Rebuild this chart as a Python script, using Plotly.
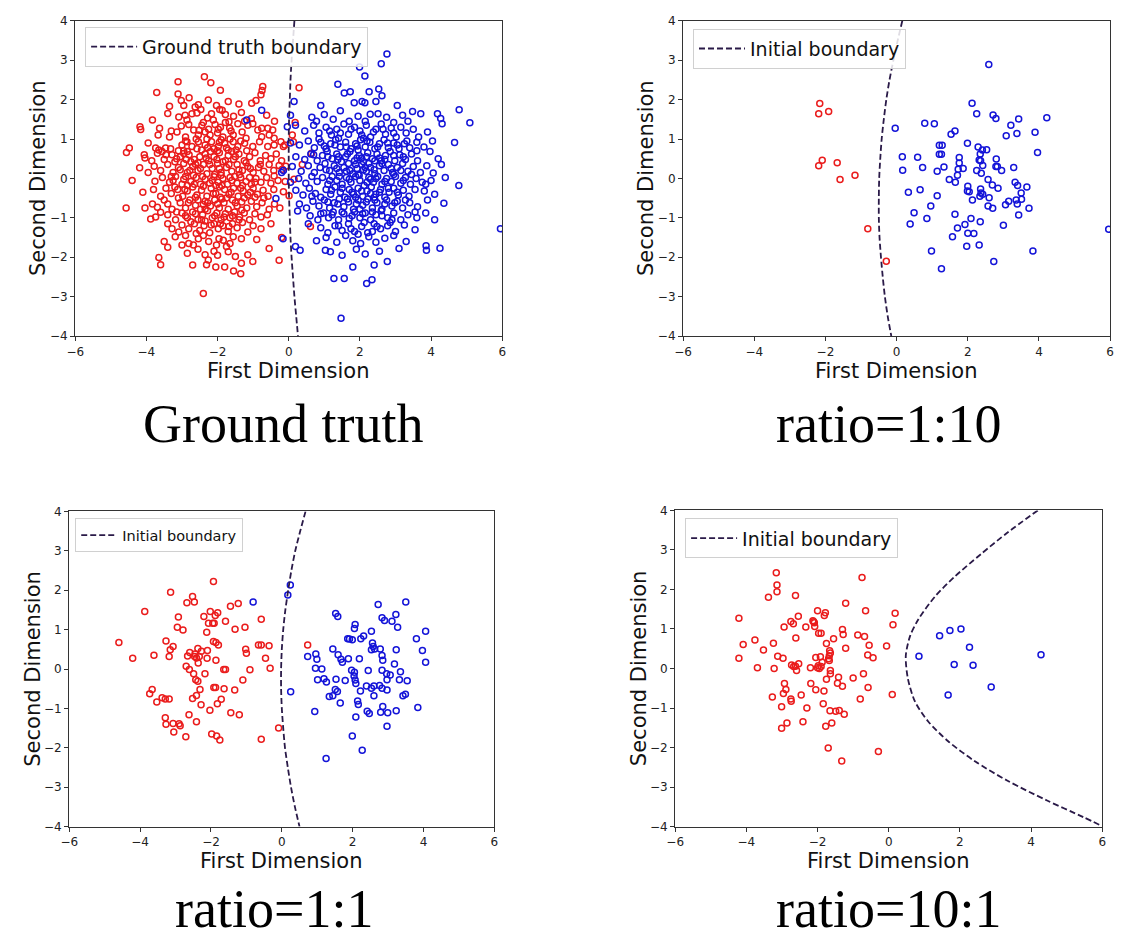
import plotly.graph_objects as go

# ---------------- data ----------------
# Ground truth: class A (red) and class B (blue) samples
GT_RED = [
    (-2.37, 2.58), (-2.19, 2.43), (-3.11, 2.45), (-3.71, 2.18), (-1.92, 2.24), (-0.73, 2.33), (-0.75, 2.23), (0.29, 2.30),
    (-3.11, 2.14), (-3.02, 1.98), (-2.95, 1.85), (-3.35, 1.83), (-2.26, 1.99), (-2.03, 1.85), (-1.40, 1.89), (-1.04, 1.91),
    (-0.92, 1.98), (-0.78, 2.12), (-2.54, 1.87), (-2.63, 1.81), (-1.70, 1.95), (-2.80, 2.05),
    (-1.94, 1.75), (-2.47, 1.75), (-2.72, 1.64), (-2.58, 1.66), (-3.09, 1.56), (-2.91, 1.60), (-2.86, 1.48), (-2.17, 1.64),
    (-2.28, 1.53), (-2.12, 1.48), (-1.87, 1.73), (-1.78, 1.62), (-3.83, 1.48), (-1.33, 1.67), (-1.24, 1.45), (-1.55, 1.58),
    (-1.05, 1.52), (-0.62, 1.60), (-0.40, 1.45), (-3.40, 1.65), (-2.40, 1.42), (-1.68, 1.44), (0.18, 1.42),
    (-4.16, 1.24), (-4.18, 1.31), (-3.63, 1.27), (-3.67, 1.10), (-3.02, 1.33), (-3.14, 1.18), (-2.81, 1.37), (-2.67, 1.23),
    (-2.44, 1.35), (-2.35, 1.18), (-2.54, 1.10), (-2.07, 1.37), (-1.98, 1.25), (-2.21, 1.10), (-1.78, 1.42), (-1.66, 1.28),
    (-1.56, 1.10), (-1.43, 1.39), (-1.31, 1.18), (-1.15, 1.35), (-1.01, 1.39), (-0.87, 1.23), (-0.76, 1.27), (-0.59, 1.27),
    (-0.45, 1.23), (-0.76, 1.06), (-0.55, 1.10), (-0.41, 1.02), (0.10, 1.10), (-3.35, 1.05), (-2.90, 1.05), (-1.85, 1.05),
    (-1.20, 1.02), (-2.00, 1.15),
    (-0.22, 0.93), (-0.11, 0.85), (-4.48, 0.77), (-3.74, 0.77), (-3.65, 0.72), (-3.46, 0.77), (-3.32, 0.75), (-3.00, 0.85),
    (-2.86, 0.93), (-2.72, 0.81), (-2.54, 0.93), (-2.35, 0.85), (-2.17, 0.93), (-1.98, 0.81), (-1.80, 0.89), (-1.56, 0.93),
    (-1.43, 0.81), (-1.24, 0.89), (-1.01, 0.81), (-0.82, 0.93), (-0.59, 0.81), (-0.41, 0.85), (-0.15, 0.81), (-2.45, 0.72),
    (-2.10, 0.75), (-1.70, 0.72), (-2.95, 0.70), (-1.90, 0.98), (0.13, 0.93), (-3.95, 0.90),
    (-4.56, 0.66), (-4.06, 0.60), (-3.69, 0.64), (-3.56, 0.68), (-3.28, 0.60), (-2.95, 0.63), (-4.04, 0.52), (-3.85, 0.45),
    (-3.50, 0.48), (-3.20, 0.42), (-3.05, 0.55), (-2.80, 0.60), (-2.65, 0.48), (-2.50, 0.55), (-2.35, 0.62), (-2.25, 0.45),
    (-2.10, 0.55), (-1.95, 0.65), (-1.85, 0.42), (-1.70, 0.58), (-1.55, 0.48), (-1.40, 0.62), (-1.25, 0.45), (-1.10, 0.55),
    (-0.95, 0.65), (-0.80, 0.45), (-0.65, 0.58), (-0.50, 0.50), (-0.35, 0.62), (-0.20, 0.45), (0.64, 0.64), (-2.75, 0.42),
    (-2.20, 0.68), (-1.60, 0.68),
    (-4.19, 0.27), (-3.78, 0.31), (-0.27, 0.33), (-0.08, 0.31), (-3.95, 0.15), (-3.60, 0.20), (-3.40, 0.35), (-3.25, 0.15),
    (-3.10, 0.28), (-2.95, 0.38), (-2.85, 0.15), (-2.70, 0.30), (-2.55, 0.20), (-2.40, 0.35), (-2.30, 0.12), (-2.15, 0.25),
    (-2.00, 0.38), (-1.90, 0.15), (-1.75, 0.28), (-1.60, 0.18), (-1.45, 0.35), (-1.30, 0.20), (-1.15, 0.30), (-1.00, 0.15),
    (-0.85, 0.28), (-0.70, 0.18), (-0.55, 0.35), (-0.42, 0.20), (0.38, 0.35), (-2.62, 0.36), (-2.08, 0.10), (-1.52, 0.05),
    (-0.18, 0.23),
    (-3.76, -0.07), (-0.41, 0.06), (-4.40, -0.05), (-3.55, 0.02), (-3.35, -0.10), (-3.18, 0.05), (-3.00, -0.15), (-2.90, 0.05),
    (-2.75, -0.08), (-2.60, 0.02), (-2.48, -0.15), (-2.35, -0.02), (-2.22, -0.12), (-2.10, 0.04), (-1.98, -0.10), (-1.85, 0.00),
    (-1.72, -0.15), (-1.60, -0.05), (-1.45, -0.12), (-1.35, 0.02), (-1.20, -0.08), (-1.05, -0.15), (-0.92, 0.00), (-0.78, -0.10),
    (-0.62, 0.02), (-0.50, -0.12), (-0.30, -0.05), (-0.10, -0.08), (0.15, -0.02), (-2.85, -0.18), (-2.05, -0.18), (-1.30, -0.18),
    (-0.15, -0.34), (-4.10, -0.35), (-3.80, -0.28), (-3.60, -0.45), (-3.45, -0.25), (-3.30, -0.38), (-3.12, -0.28), (-2.98, -0.45),
    (-2.85, -0.32), (-2.70, -0.22), (-2.58, -0.42), (-2.45, -0.30), (-2.30, -0.45), (-2.18, -0.25), (-2.05, -0.38), (-1.92, -0.48),
    (-1.80, -0.28), (-1.68, -0.40), (-1.55, -0.25), (-1.42, -0.45), (-1.28, -0.32), (-1.15, -0.42), (-1.00, -0.25), (-0.88, -0.40),
    (-0.72, -0.30), (-0.58, -0.45), (-0.42, -0.28), (-2.62, -0.48), (-1.95, -0.22), (-0.95, -0.48), (0.01, -0.44),
    (-4.57, -0.75), (-4.04, -0.75), (-3.83, -0.65), (-3.69, -0.73), (-3.28, -0.78), (-3.50, -0.55), (-3.05, -0.62), (-2.90, -0.75),
    (-2.78, -0.55), (-2.62, -0.68), (-2.48, -0.78), (-2.35, -0.58), (-2.20, -0.70), (-2.08, -0.55), (-1.95, -0.75), (-1.82, -0.62),
    (-1.70, -0.78), (-1.58, -0.55), (-1.45, -0.70), (-1.32, -0.60), (-1.18, -0.75), (-1.05, -0.58), (-0.90, -0.72), (-0.75, -0.62),
    (-0.55, -0.78), (-0.40, -0.65), (-0.25, -0.75), (-2.40, -0.66), (-1.88, -0.52),
    (-3.88, -1.03), (-3.74, -0.98), (-3.60, -0.86), (-0.78, -0.98), (-3.40, -0.92), (-3.18, -1.05), (-3.00, -0.88), (-2.85, -1.00),
    (-2.70, -0.85), (-2.55, -1.05), (-2.42, -0.92), (-2.28, -0.82), (-2.15, -1.00), (-2.02, -0.88), (-1.90, -1.05), (-1.78, -0.90),
    (-1.65, -1.00), (-1.52, -0.85), (-1.38, -0.98), (-1.25, -0.88), (-1.10, -1.05), (-0.95, -0.90), (-0.60, -0.92), (-2.35, -1.08),
    (-0.78, -1.28), (-3.28, -1.28), (-2.81, -1.28), (-3.09, -1.36), (-3.40, -1.15), (-3.00, -1.18), (-2.65, -1.15), (-2.50, -1.32),
    (-2.38, -1.20), (-2.22, -1.38), (-2.10, -1.15), (-1.98, -1.28), (-1.85, -1.20), (-1.70, -1.35), (-1.58, -1.15), (-1.45, -1.25),
    (-1.30, -1.12), (-1.15, -1.36), (-1.00, -1.20), (-0.50, -1.15), (0.61, -1.22), (-2.60, -1.40),
    (-3.19, -1.48), (-2.54, -1.53), (-1.96, -1.53), (-1.84, -1.57), (-1.56, -1.48), (-1.33, -1.53), (-3.00, -1.69), (-2.81, -1.65),
    (-2.68, -1.69), (-2.03, -1.69), (-2.90, -1.45), (-2.25, -1.60), (-1.65, -1.65), (-0.90, -1.55), (-0.20, -1.50), (-3.50, -1.60),
    (-2.40, -1.45),
    (-1.75, -1.73), (-1.70, -1.86), (-0.55, -1.78), (-2.35, -1.94), (-1.15, -1.94), (-3.40, -1.75), (-2.85, -1.90), (-2.55, -1.80),
    (-2.10, -1.85), (-1.50, -1.98), (-3.65, -2.01), (-2.00, -1.95),
    (-3.60, -2.19), (-2.26, -2.07), (-2.31, -2.19), (-1.01, -2.11), (-1.33, -2.15), (-0.27, -2.08), (-2.70, -2.20), (-1.80, -2.25),
    (-2.40, -2.92), (-1.55, -2.35), (-1.35, -2.42), (-2.05, -2.25),
    # dense core
    (-2.90, 0.95), (-2.60, 1.00), (-2.30, 1.00), (-1.95, 0.92), (-1.65, 1.00), (-1.35, 0.95), (-3.10, 0.70), (-2.85, 0.68),
    (-2.58, 0.75), (-2.28, 0.78), (-2.00, 0.70), (-1.75, 0.78), (-1.48, 0.72), (-1.18, 0.70), (-3.15, 0.50), (-2.88, 0.48),
    (-2.55, 0.40), (-2.32, 0.52), (-2.02, 0.48), (-1.78, 0.45), (-1.50, 0.55), (-1.20, 0.40), (-3.05, 0.22), (-2.78, 0.20),
    (-2.48, 0.25), (-2.22, 0.35), (-1.95, 0.25), (-1.68, 0.35), (-1.40, 0.22), (-1.08, 0.25), (-3.25, -0.05), (-2.95, -0.02),
    (-2.68, 0.08), (-2.42, 0.05), (-2.15, -0.05), (-1.90, 0.08), (-1.65, 0.02), (-1.38, 0.10), (-1.10, 0.02), (-3.20, -0.22),
    (-2.92, -0.28), (-2.65, -0.15), (-2.40, -0.20), (-2.12, -0.38), (-1.88, -0.18), (-1.62, -0.35), (-1.35, -0.25), (-1.08, -0.35),
    (-3.10, -0.50), (-2.82, -0.62), (-2.55, -0.55), (-2.28, -0.62), (-2.00, -0.65), (-1.75, -0.50), (-1.50, -0.62), (-1.25, -0.50),
    (-3.15, -0.85), (-2.90, -0.95), (-2.62, -0.90), (-2.35, -0.78), (-2.08, -0.95), (-1.82, -0.98), (-1.58, -0.95), (-1.32, -0.80),
    (-2.75, -1.10), (-2.45, -1.05), (-2.18, -1.18), (-1.92, -1.15), (-1.68, -1.22), (-1.40, -1.05), (-2.52, 1.22), (-2.25, 1.25),
    (-1.92, 1.30), (-1.62, 1.20), (-3.30, 1.20), (-3.45, 0.60), (-3.40, -0.65), (-3.30, 0.05), (-0.95, -0.10), (-0.80, 0.35),
    (-0.70, -0.50),
]

GT_BLUE = [
    (2.76, 3.16), (1.99, 2.83), (2.60, 2.91), (2.14, 2.60), (1.38, 2.39), (2.53, 2.27), (2.26, 2.20),
    (1.56, 2.17), (1.73, 2.20), (2.62, 2.10), (1.84, 1.92), (2.06, 1.95), (2.14, 1.92), (0.15, 1.95), (0.90, 1.85),
    (3.05, 1.85), (2.45, 1.95),
    (2.29, 1.63), (2.51, 1.64), (4.79, 1.74), (5.09, 1.41), (4.18, 1.64), (4.27, 1.52), (4.31, 1.39), (3.71, 1.64),
    (3.48, 1.70), (0.65, 1.55), (0.78, 1.45), (1.00, 1.62), (1.25, 1.50), (1.45, 1.72), (1.70, 1.45), (1.95, 1.58),
    (2.15, 1.45), (2.75, 1.55), (2.95, 1.42), (3.20, 1.60), (3.35, 1.45), (0.05, 1.60), (-0.76, 1.73),
    (3.90, 1.18), (0.45, 1.20), (0.70, 1.35), (0.85, 1.15), (1.05, 1.30), (1.20, 1.10), (1.35, 1.25), (1.55, 1.38),
    (1.68, 1.12), (1.85, 1.30), (2.00, 1.20), (2.18, 1.35), (2.30, 1.05), (2.45, 1.25), (2.60, 1.38), (2.72, 1.12),
    (2.88, 1.28), (3.02, 1.05), (3.15, 1.30), (3.30, 1.15), (3.50, 1.25), (3.65, 1.05), (-0.04, 1.31), (0.19, 1.35),
    (-1.18, 1.48), (1.40, 1.02), (2.10, 1.02),
    (4.04, 0.95), (4.66, 0.91), (0.30, 0.85), (0.55, 0.95), (0.72, 0.78), (0.90, 0.92), (1.05, 0.75), (1.18, 0.88),
    (1.32, 0.98), (1.45, 0.80), (1.60, 0.92), (1.75, 0.75), (1.88, 0.88), (2.02, 0.98), (2.15, 0.80), (2.28, 0.92),
    (2.42, 0.75), (2.55, 0.88), (2.68, 0.98), (2.80, 0.78), (2.95, 0.90), (3.10, 0.75), (3.25, 0.88), (3.40, 0.78),
    (3.60, 0.92), (3.80, 0.80), (0.05, 0.90), (1.95, 0.72),
    (3.97, 0.68), (0.20, 0.55), (0.45, 0.48), (0.62, 0.62), (0.80, 0.45), (0.95, 0.58), (1.08, 0.68), (1.22, 0.50),
    (1.35, 0.62), (1.48, 0.42), (1.60, 0.55), (1.72, 0.68), (1.85, 0.45), (1.98, 0.58), (2.10, 0.42), (2.22, 0.65),
    (2.35, 0.50), (2.48, 0.62), (2.60, 0.45), (2.72, 0.58), (2.85, 0.68), (2.98, 0.45), (3.12, 0.60), (3.28, 0.48),
    (3.45, 0.62), (3.62, 0.45), (4.20, 0.50), (1.40, 0.55), (2.05, 0.52), (2.55, 0.52),
    (4.29, 0.35), (4.06, 0.14), (-0.15, 0.20), (-0.20, 0.15), (0.10, 0.30), (0.35, 0.18), (0.55, 0.32), (0.72, 0.15),
    (0.88, 0.28), (1.02, 0.38), (1.15, 0.20), (1.28, 0.32), (1.42, 0.15), (1.55, 0.28), (1.68, 0.38), (1.80, 0.12),
    (1.92, 0.25), (2.05, 0.35), (2.18, 0.18), (2.30, 0.28), (2.42, 0.12), (2.55, 0.32), (2.68, 0.20), (2.80, 0.35),
    (2.92, 0.15), (3.05, 0.28), (3.20, 0.38), (3.35, 0.18), (3.50, 0.30), (3.70, 0.15), (3.88, 0.32), (1.72, 0.20),
    (2.25, 0.38), (2.10, 0.22),
    (4.78, -0.18), (0.05, -0.10), (0.28, 0.00), (0.48, -0.12), (0.65, 0.05), (0.80, -0.08), (0.95, 0.02), (1.10, -0.15),
    (1.22, 0.05), (1.35, -0.05), (1.50, -0.15), (1.62, 0.02), (1.75, -0.10), (1.88, 0.05), (2.00, -0.05), (2.12, -0.18),
    (2.25, 0.02), (2.38, -0.10), (2.50, 0.05), (2.62, -0.15), (2.75, 0.00), (2.88, -0.08), (3.00, 0.05), (3.15, -0.12),
    (3.28, 0.02), (3.42, -0.15), (3.58, 0.00), (3.75, -0.10), (4.00, -0.05), (4.40, 0.02), (1.98, 0.08), (2.30, -0.02),
    (3.85, -0.15), (3.81, -0.32), (-0.36, -0.51), (0.20, -0.30), (0.40, -0.42), (0.58, -0.25), (0.75, -0.38), (0.90, -0.48),
    (1.05, -0.28), (1.18, -0.40), (1.30, -0.22), (1.45, -0.35), (1.58, -0.48), (1.70, -0.28), (1.82, -0.40), (1.95, -0.25),
    (2.08, -0.45), (2.20, -0.32), (2.32, -0.22), (2.45, -0.40), (2.58, -0.28), (2.70, -0.48), (2.82, -0.35), (2.95, -0.25),
    (3.08, -0.42), (3.22, -0.30), (3.38, -0.45), (3.55, -0.28), (4.10, -0.40), (1.88, -0.48), (2.40, -0.48),
    (4.36, -0.63), (0.30, -0.65), (0.50, -0.75), (0.68, -0.58), (0.85, -0.70), (1.00, -0.55), (1.15, -0.75), (1.28, -0.62),
    (1.42, -0.52), (1.55, -0.72), (1.68, -0.60), (1.82, -0.78), (1.95, -0.55), (2.08, -0.68), (2.22, -0.52), (2.35, -0.75),
    (2.48, -0.62), (2.62, -0.78), (2.75, -0.55), (2.90, -0.70), (3.05, -0.58), (3.20, -0.75), (3.40, -0.62), (3.62, -0.72),
    (3.90, -0.55), (2.00, -0.78),
    (0.25, -0.83), (0.60, -0.95), (0.82, -1.05), (0.98, -0.88), (1.12, -1.00), (1.25, -0.85), (1.40, -1.05), (1.55, -0.90),
    (1.70, -1.02), (1.85, -0.85), (2.00, -1.00), (2.15, -0.88), (2.30, -1.05), (2.45, -0.92), (2.60, -0.82), (2.78, -1.00),
    (2.95, -0.88), (3.15, -1.05), (3.35, -0.92), (3.60, -1.00), (3.85, -0.88), (4.10, -1.05),
    (0.55, -1.15), (5.95, -1.28), (0.90, -1.25), (1.10, -1.38), (1.30, -1.20), (1.50, -1.32), (1.68, -1.15), (1.85, -1.35),
    (2.05, -1.22), (2.22, -1.38), (2.40, -1.15), (2.58, -1.28), (2.78, -1.20), (3.00, -1.35), (3.25, -1.18), (3.55, -1.30),
    (-0.16, -1.53),
    (0.78, -1.58), (1.05, -1.50), (1.35, -1.62), (1.60, -1.45), (1.80, -1.58), (2.02, -1.65), (2.25, -1.48), (2.45, -1.62),
    (2.70, -1.52), (2.95, -1.45), (3.30, -1.60), (3.86, -1.71),
    (0.19, -1.73), (0.32, -1.82), (1.03, -1.82), (1.17, -1.86), (3.87, -1.82), (4.25, -1.77), (1.50, -1.95), (1.90, -1.80),
    (2.15, -1.92), (2.55, -1.85), (3.10, -1.78),
    (2.77, -2.11), (1.27, -2.54), (1.56, -2.54), (2.19, -2.67), (2.34, -2.57), (1.47, -3.55), (1.80, -2.25), (2.40, -2.20),
    # dense core
    (1.15, 1.20), (1.45, 1.15), (1.75, 1.25), (2.05, 1.10), (2.38, 1.18), (2.65, 1.25), (2.95, 1.15), (1.00, 0.82),
    (1.30, 0.85), (1.62, 0.80), (1.92, 0.82), (2.20, 0.95), (2.50, 0.80), (2.78, 0.90), (3.05, 0.85), (3.32, 0.95),
    (1.10, 0.55), (1.38, 0.48), (1.65, 0.62), (1.92, 0.52), (2.18, 0.55), (2.42, 0.45), (2.70, 0.48), (2.95, 0.58),
    (3.22, 0.55), (1.05, 0.22), (1.35, 0.25), (1.62, 0.18), (1.88, 0.35), (2.15, 0.28), (2.40, 0.22), (2.62, 0.38),
    (2.88, 0.25), (3.15, 0.20), (1.15, -0.05), (1.42, 0.05), (1.70, -0.02), (1.95, 0.10), (2.20, -0.10), (2.45, 0.00),
    (2.70, -0.08), (2.95, 0.10), (3.22, -0.05), (1.20, -0.30), (1.50, -0.25), (1.78, -0.35), (2.05, -0.32), (2.30, -0.38),
    (2.55, -0.35), (2.80, -0.25), (3.05, -0.35), (1.10, -0.60), (1.38, -0.65), (1.65, -0.52), (1.90, -0.65), (2.18, -0.60),
    (2.42, -0.55), (2.70, -0.65), (2.98, -0.62), (3.28, -0.55), (1.22, -0.92), (1.50, -0.85), (1.78, -0.95), (2.08, -0.90),
    (2.35, -0.85), (2.62, -0.95), (2.90, -1.05), (1.40, -1.20), (1.75, -1.28), (2.12, -1.12), (2.48, -1.22), (2.85, -1.12),
    (1.95, -1.42), (2.35, -1.35), (3.45, 0.10), (3.60, 0.70), (3.55, -0.85), (0.70, 0.60), (0.65, -0.45), (0.85, 1.00),
    (0.90, -0.90),
]

# ratio = 1:10
R110_RED = [
    (-2.16, 1.90), (-2.19, 1.64), (-1.91, 1.70), (-2.09, 0.46), (-2.19, 0.32),
    (-1.67, 0.40), (-1.59, -0.03), (-1.17, 0.08), (-0.81, -1.28), (-0.29, -2.10),
]
R110_BLUE = [
    (-0.04, 1.27), (2.59, 2.89), (2.12, 1.91), (2.25, 1.64), (2.71, 1.61), (2.79, 1.52), (3.43, 1.51), (4.22, 1.54),
    (3.21, 1.35), (0.79, 1.40), (1.06, 1.39), (1.53, 1.12), (1.64, 1.20), (3.08, 1.08), (3.38, 1.14), (3.89, 1.17),
    (1.99, 0.89), (1.20, 0.84), (1.28, 0.84), (2.29, 0.80), (2.41, 0.72), (2.53, 0.73), (3.96, 0.66), (1.20, 0.61),
    (1.26, 0.61), (0.16, 0.55), (0.59, 0.54), (1.76, 0.53), (2.35, 0.62), (2.32, 0.47), (2.36, 0.45), (2.80, 0.49),
    (1.76, 0.39), (0.73, 0.28), (1.33, 0.29), (1.73, 0.23), (1.87, 0.25), (2.25, 0.20), (2.38, 0.13), (2.42, 0.33),
    (2.79, 0.30), (2.83, 0.30), (2.95, 0.20), (3.29, 0.28), (0.17, 0.21), (1.14, 0.18), (1.71, 0.08), (2.57, -0.03),
    (1.48, -0.03), (1.65, -0.10), (2.69, -0.17), (2.85, -0.25), (3.33, -0.10), (3.40, -0.18), (3.66, -0.22), (2.00, -0.20),
    (1.99, -0.32), (2.04, -0.34), (2.36, -0.27), (2.37, -0.37), (2.42, -0.40), (2.34, -0.45), (3.50, -0.37), (3.51, -0.53),
    (3.15, -0.58), (3.06, -0.67), (3.36, -0.55), (3.39, -0.65), (2.60, -0.49), (2.13, -0.55), (0.33, -0.35), (0.66, -0.29),
    (1.14, -0.44), (0.96, -0.70), (2.57, -0.70), (2.70, -0.76), (3.72, -0.76), (3.43, -0.93), (0.49, -0.87), (0.85, -1.02),
    (1.64, -0.91), (0.38, -1.16), (2.09, -1.02), (2.35, -1.10), (1.92, -1.17), (1.71, -1.26), (3.00, -1.19), (2.00, -1.39),
    (2.17, -1.40), (1.57, -1.48), (1.97, -1.72), (2.32, -1.69), (0.98, -1.84), (3.83, -1.84), (1.26, -2.29), (2.73, -2.11),
    (5.96, -1.29),
]

# ratio = 1:1
R11_RED = [
    (-1.93, 2.22), (-3.14, 1.95), (-2.52, 1.84), (-2.68, 1.68), (-2.47, 1.70), (-1.23, 1.66), (-1.45, 1.59), (-3.87, 1.46),
    (-2.02, 1.46), (-1.81, 1.43), (-1.88, 1.36), (-2.20, 1.33), (-2.92, 1.32), (-0.58, 1.26), (-1.59, 1.21), (-2.07, 1.16),
    (-1.95, 1.16), (-1.91, 1.16), (-2.95, 1.06), (-2.79, 0.99), (-1.32, 1.01), (-1.04, 1.06), (-2.12, 0.93), (-3.27, 0.71),
    (-3.07, 0.57), (-3.15, 0.49), (-3.18, 0.32), (-4.60, 0.67), (-1.93, 0.70), (-1.86, 0.67), (-1.79, 0.61), (-0.66, 0.61),
    (-0.58, 0.61), (-0.36, 0.59), (-2.37, 0.52), (-2.60, 0.42), (-2.45, 0.38), (-2.27, 0.45), (-2.10, 0.47), (-1.02, 0.50),
    (-1.00, 0.40), (-3.61, 0.35), (-4.21, 0.27), (-2.66, 0.33), (-2.46, 0.32), (-2.33, 0.32), (-2.11, 0.27), (-2.41, 0.28),
    (-1.86, 0.22), (-0.46, 0.27), (-2.36, 0.15), (-2.70, 0.07), (-2.61, -0.01), (-1.64, -0.01), (-1.59, -0.01), (-0.90, -0.02),
    (-0.33, 0.02), (-2.49, -0.12), (-2.17, -0.12), (-2.43, -0.27), (-2.37, -0.31), (-1.10, -0.28), (-3.66, -0.52), (-3.73, -0.63),
    (-2.31, -0.52), (-1.92, -0.47), (-1.87, -0.47), (-1.63, -0.50), (-1.33, -0.53), (-2.52, -0.75), (-3.38, -0.73), (-3.29, -0.76),
    (-3.18, -0.76), (-3.53, -0.84), (-2.41, -0.67), (-1.71, -0.77), (-1.82, -0.88), (-2.28, -0.91), (-2.03, -1.05), (-2.62, -1.16),
    (-1.44, -1.11), (-1.20, -1.16), (-3.29, -1.24), (-3.27, -1.40), (-3.07, -1.38), (-2.90, -1.39), (-2.87, -1.44), (-2.41, -1.34),
    (-3.05, -1.60), (-2.71, -1.72), (-1.98, -1.65), (-1.84, -1.70), (-1.75, -1.80), (-0.58, -1.78), (-0.09, -1.50), (0.73, 0.61),
]
R11_BLUE = [
    (-0.81, 1.70), (0.24, 2.13), (0.17, 1.88), (0.25, -0.58), (3.50, 1.70), (2.72, 1.64), (1.52, 1.41), (1.58, 1.33),
    (2.83, 1.30), (2.90, 1.23), (3.22, 1.38), (3.11, 1.21), (3.27, 1.06), (2.07, 1.13), (2.05, 1.03), (2.53, 0.96),
    (4.06, 0.96), (2.31, 0.84), (2.23, 0.77), (1.86, 0.77), (1.91, 0.76), (1.99, 0.74), (3.80, 0.77), (2.56, 0.66),
    (2.58, 0.57), (2.62, 0.51), (2.53, 0.49), (2.78, 0.51), (3.23, 0.49), (1.44, 0.51), (3.97, 0.47), (0.96, 0.38),
    (0.99, 0.25), (0.73, 0.32), (1.59, 0.36), (1.67, 0.25), (1.71, 0.17), (2.19, 0.26), (1.88, 0.26), (2.83, 0.34),
    (2.85, 0.22), (3.18, 0.13), (4.06, 0.17), (0.95, 0.02), (1.13, 0.00), (1.97, -0.03), (2.05, -0.08), (2.04, -0.18),
    (2.07, -0.28), (2.09, -0.37), (2.44, -0.04), (2.83, -0.03), (2.96, -0.12), (2.97, -0.27), (3.06, -0.15), (3.35, -0.07),
    (3.32, -0.27), (3.54, -0.30), (1.01, -0.27), (1.19, -0.25), (1.26, -0.33), (1.53, -0.26), (1.79, -0.29), (2.39, -0.43),
    (2.53, -0.49), (2.60, -0.43), (2.76, -0.42), (2.83, -0.49), (2.97, -0.53), (2.22, -0.56), (1.51, -0.52), (1.57, -0.57),
    (2.60, -0.68), (3.42, -0.68), (3.49, -0.64), (1.34, -0.70), (1.44, -0.68), (1.65, -0.86), (2.14, -0.81), (2.16, -0.90),
    (2.85, -0.95), (3.84, -0.98), (0.93, -1.08), (2.41, -1.07), (2.47, -1.13), (2.79, -1.10), (2.99, -1.11), (3.23, -1.06),
    (2.09, -1.22), (2.97, -1.45), (1.99, -1.70), (2.27, -2.06), (1.25, -2.27),
]

# ratio = 10:1
R101_RED = [
    (-3.16, 2.42), (-3.14, 2.11), (-3.14, 1.94), (-3.38, 1.80), (-2.62, 1.85), (-0.75, 2.30), (-4.21, 1.27), (-1.21, 1.65),
    (-2.00, 1.46), (-1.78, 1.41), (-1.81, 1.34), (-0.65, 1.46), (0.18, 1.40), (-2.54, 1.32), (-2.13, 1.21), (-2.11, 1.18),
    (-2.09, 1.16), (-2.75, 1.19), (-2.68, 1.13), (-2.94, 1.05), (-2.33, 1.05), (-2.08, 1.06), (0.12, 1.11), (-1.30, 0.99),
    (-1.97, 0.89), (-1.90, 0.89), (-1.28, 0.86), (-0.87, 0.85), (-0.68, 0.81), (-2.61, 0.77), (-1.55, 0.75), (-3.76, 0.72),
    (-4.09, 0.61), (-3.24, 0.64), (-1.75, 0.63), (-0.55, 0.59), (-0.06, 0.57), (-3.52, 0.47), (-1.21, 0.51), (-1.66, 0.45),
    (-1.64, 0.39), (-1.67, 0.32), (-1.69, 0.25), (-1.67, 0.20), (-3.12, 0.31), (-2.97, 0.26), (-2.05, 0.28), (-1.92, 0.30),
    (-0.59, 0.34), (-0.44, 0.27), (-4.21, 0.26), (-3.69, 0.02), (-3.22, 0.00), (-2.73, 0.09), (-2.67, 0.05), (-2.59, -0.05),
    (-2.53, 0.12), (-2.62, 0.06), (-2.20, 0.02), (-2.00, 0.02), (-1.95, 0.00), (-1.90, 0.05), (-1.87, 0.16), (-1.98, 0.07),
    (-1.64, -0.05), (-1.64, -0.13), (-0.71, -0.13), (-1.41, -0.22), (-1.00, -0.24), (-1.75, -0.27), (-2.19, -0.38), (-1.44, -0.37),
    (-1.30, -0.45), (-2.93, -0.38), (-2.89, -0.53), (-0.58, -0.48), (-2.05, -0.54), (-1.82, -0.57), (-2.96, -0.63), (-3.27, -0.72),
    (-2.46, -0.67), (0.10, -0.66), (-2.75, -0.77), (-2.74, -0.83), (-0.80, -0.77), (-1.84, -0.89), (-3.01, -0.97), (-2.30, -1.00),
    (-1.65, -1.07), (-1.49, -1.08), (-1.39, -1.06), (-1.25, -1.16), (-2.41, -1.35), (-2.86, -1.38), (-1.60, -1.38), (-1.77, -1.46),
    (-3.01, -1.51), (-1.70, -2.01), (-0.29, -2.10), (-1.32, -2.34),
]
R101_BLUE = [
    (0.85, 0.31), (1.43, 0.83), (1.72, 0.96), (2.03, 1.00), (2.27, 0.54),
    (1.84, 0.10), (2.37, 0.08), (1.67, -0.67), (2.88, -0.47), (4.28, 0.35),
]

# Decision boundaries, sampled along the dashed curves
GT_BOUND_Y = [4.0, 3.5, 3.0, 2.5, 2.0, 1.5, 1.0, 0.5, 0.0, -0.5, -1.0, -1.5, -2.0, -2.5, -3.0, -3.5, -4.0]
GT_BOUND_X = [0.16, 0.12, 0.08, 0.05, 0.03, 0.01, 0.00, 0.00, 0.00, 0.01, 0.03, 0.05, 0.08, 0.12, 0.16, 0.21, 0.26]

R110_BOUND_Y = [4.0, 3.5, 3.0, 2.5, 2.0, 1.5, 1.0, 0.5, 0.0, -0.5, -1.0, -1.5, -2.0, -2.5, -3.0, -3.5, -4.0]
R110_BOUND_X = [0.16, 0.03, -0.09, -0.20, -0.29, -0.36, -0.42, -0.46, -0.49, -0.50, -0.50, -0.48, -0.44, -0.39, -0.33, -0.25, -0.15]

R11_BOUND_Y = [4.0, 3.5, 3.0, 2.5, 2.0, 1.5, 1.0, 0.5, 0.0, -0.5, -1.0, -1.5, -2.0, -2.5, -3.0, -3.5, -4.0]
R11_BOUND_X = [0.67, 0.52, 0.38, 0.27, 0.18, 0.10, 0.04, 0.00, -0.02, -0.02, 0.00, 0.04, 0.09, 0.17, 0.26, 0.37, 0.50]

R101_BOUND_Y = [4.0, 3.44, 2.90, 2.32, 1.82, 1.24, 0.82, 0.32, -0.26, -0.84, -1.34, -1.84, -2.34, -2.84, -3.34, -3.76, -3.98]
R101_BOUND_X = [4.19, 3.34, 2.60, 1.85, 1.30, 0.83, 0.60, 0.48, 0.54, 0.74, 1.11, 1.67, 2.41, 3.34, 4.45, 5.47, 5.98]

X_TICKS = [-6, -4, -2, 0, 2, 4, 6]
Y_TICKS = [-4, -3, -2, -1, 0, 1, 2, 3, 4]

CAPTIONS = ["Ground truth", "ratio=1:10", "ratio=1:1", "ratio=10:1"]
LEGEND_NAMES = ["Ground truth boundary", "Initial boundary", "Initial boundary", "Initial boundary"]

# ---------------- figure ----------------
W, H = 1125, 941
RED = "#ea1c1c"
BLUE = "#1414d8"
BOUND_COLOR = "#2a1a48"
AXIS_COLOR = "#333333"
SANS = "DejaVu Sans"

# plot-area rectangles in pixels: (left, top, right, bottom)
PANELS = [
    (67, 14, 499, 334),
    (682, 14, 1114, 334),
    (61, 512, 491, 832),
    (674, 511, 1106, 832),
]

panel_data = [
    (GT_RED, GT_BLUE, GT_BOUND_X, GT_BOUND_Y),
    (R110_RED, R110_BLUE, R110_BOUND_X, R110_BOUND_Y),
    (R11_RED, R11_BLUE, R11_BOUND_X, R11_BOUND_Y),
    (R101_RED, R101_BLUE, R101_BOUND_X, R101_BOUND_Y),
]

legend_fonts = [19, 19, 14.5, 19]
legend_pos = [(77, 20), (692, 22), (67, 519), (684, 519)]
legend_itemwidth = [46, 46, 36, 46]

fig = go.Figure()


def px_x(p):
    return p / W


def px_y(p):
    return 1 - p / H


layout = dict(
    width=W, height=H,
    margin=dict(l=0, r=0, t=0, b=0),
    paper_bgcolor="white", plot_bgcolor="white",
    showlegend=True,
)
annotations = []

for i, ((red, blue, bx, by), (l, t, r, b)) in enumerate(zip(panel_data, PANELS)):
    n = "" if i == 0 else str(i + 1)
    xa, ya = "x" + n, "y" + n
    leg = "legend" + n

    rx, ry = zip(*red)
    ux, uy = zip(*blue)
    fig.add_trace(go.Scatter(
        x=rx, y=ry, mode="markers", xaxis=xa, yaxis=ya, showlegend=False,
        marker=dict(symbol="circle-open", size=6, color=RED, line=dict(width=1.5, color=RED)),
    ))
    fig.add_trace(go.Scatter(
        x=ux, y=uy, mode="markers", xaxis=xa, yaxis=ya, showlegend=False,
        marker=dict(symbol="circle-open", size=6, color=BLUE, line=dict(width=1.5, color=BLUE)),
    ))
    fig.add_trace(go.Scatter(
        x=bx, y=by, mode="lines", xaxis=xa, yaxis=ya, name=LEGEND_NAMES[i], legend=leg,
        line=dict(color=BOUND_COLOR, width=1.8, dash="6px,3px", shape="spline", smoothing=0.8),
    ))

    axis_common = dict(
        showgrid=False, zeroline=False, showline=True, mirror=True,
        linecolor=AXIS_COLOR, linewidth=1.3,
        ticks="outside", ticklen=4, tickwidth=1.2, tickcolor=AXIS_COLOR,
        tickfont=dict(family=SANS, size=12, color="#222222"),
    )
    layout["xaxis" + n] = dict(
        axis_common, domain=[px_x(l), px_x(r)], anchor=ya, range=[-6, 6],
        tickmode="array", tickvals=X_TICKS,
    )
    layout["yaxis" + n] = dict(
        axis_common, domain=[px_y(b), px_y(t)], anchor=xa, range=[-4, 4],
        tickmode="array", tickvals=Y_TICKS,
    )

    lx, ly = legend_pos[i]
    layout[leg] = dict(
        x=px_x(lx), y=px_y(ly), xanchor="left", yanchor="top",
        bgcolor="rgba(255,255,255,0.85)", bordercolor="#d0d0d0", borderwidth=1,
        font=dict(family=SANS, size=legend_fonts[i], color="#111111"),
        itemwidth=legend_itemwidth[i], tracegroupgap=0,
    )

    # axis titles
    cx = (l + r) / 2
    cy = (t + b) / 2
    annotations.append(dict(
        text="First Dimension", xref="paper", yref="paper",
        x=px_x(cx), y=px_y(b + 35), xanchor="center", yanchor="middle",
        showarrow=False, font=dict(family=SANS, size=21, color="#111111"),
    ))
    annotations.append(dict(
        text="Second Dimension", xref="paper", yref="paper",
        x=px_x(l - 37), y=px_y(cy), xanchor="center", yanchor="middle",
        textangle=-90, showarrow=False, font=dict(family=SANS, size=21, color="#111111"),
    ))

# panel captions
caption_pos = [(277, 423), (890, 423), (268, 916), (890, 916)]
for text, (cx, cy) in zip(CAPTIONS, caption_pos):
    annotations.append(dict(
        text=text, xref="paper", yref="paper", x=px_x(cx), y=px_y(cy),
        xanchor="center", yanchor="middle", showarrow=False,
        font=dict(family="Liberation Serif", size=54, color="#000000"),
    ))

layout["annotations"] = annotations
fig.update_layout(**layout)

fig.write_html("out.html")
